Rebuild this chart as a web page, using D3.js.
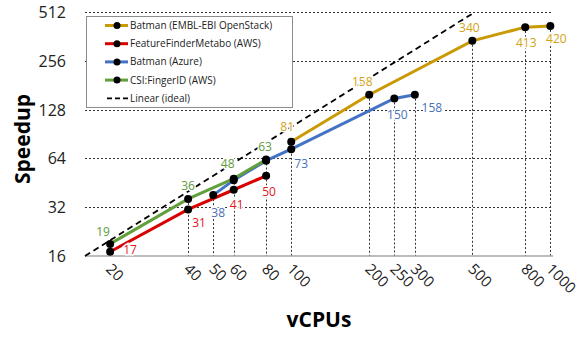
<!DOCTYPE html>
<html>
<head>
<meta charset="utf-8">
<script src="https://cdn.jsdelivr.net/npm/d3@7"></script>
<style>
    body { margin: 0; background: #fff; }
    text { font-family: "Open Sans", "Noto Sans", sans-serif; }
</style>
</head>
<body>
<div id="canvas"></div>
<script>
"use strict"

// ---------------- DATA ----------------
let seriesNames = ["Batman (EMBL-EBI OpenStack)", "FeatureFinderMetabo (AWS)", "Batman (Azure)", "CSI:FingerID (AWS)"]

let batmanOpenStackX = [100, 200, 500, 800, 1000]
let batmanOpenStackY = [81, 158, 340, 413, 420]

let featureFinderX = [20, 40, 60, 80]
let featureFinderY = [17, 31, 41, 50]

let batmanAzureX = [50, 60, 80, 100, 250, 300]
let batmanAzureY = [38, 47, 62, 73, 150, 158]
let batmanAzureLabelled = [true, false, false, true, true, true]

let csiFingerIdX = [20, 40, 60, 80]
let csiFingerIdY = [19, 36, 48, 63]

let linearX = [16, 512]

let xTicks = [20, 40, 50, 60, 80, 100, 200, 250, 300, 500, 800, 1000]
let yTicks = [16, 32, 64, 128, 256, 512]

// ---------------- SETUP ----------------
let svgWidth = 581
let svgHeight = 349

let svg = d3.select("#canvas")
    .append("svg")
    .attr("width", svgWidth)
    .attr("height", svgHeight)

let xScale = d3.scaleLog().base(2).domain([16, 1024]).range([85, 553])
let yScale = d3.scaleLog().base(2).domain([16, 512]).range([256, 12])

let series = [
    { name: seriesNames[0], xs: batmanOpenStackX, ys: batmanOpenStackY, line: "#c99a06", label: "#d4a212",
      offsets: [[-4, -15], [-7, -13], [-3, -13], [1, 15], [6, 13]] },
    { name: seriesNames[1], xs: featureFinderX, ys: featureFinderY, line: "#d80000", label: "#e0161c",
      offsets: [[20, -2], [11, 13], [3, 15], [3, 16]] },
    { name: seriesNames[2], xs: batmanAzureX, ys: batmanAzureY, line: "#4472c4", label: "#4a70b8",
      labelled: batmanAzureLabelled,
      offsets: [[5, 17], null, null, [10, 14], [3, 16], [17, 13]] },
    { name: seriesNames[3], xs: csiFingerIdX, ys: csiFingerIdY, line: "#62a03e", label: "#5e9a3c",
      offsets: [[-7, -12], [0, -13], [-6, -15], [-1, -13]] }
]

let pointsOf = function(s) {
    return s.xs.map(function(x, i) { return { x: x, y: s.ys[i], i: i } })
}

let crisp = function(v) { return Math.round(v) + 0.5 }

// ---------------- GRID ----------------
let grid = svg.append("g")

grid.selectAll("line.h")
    .data(yTicks.slice(1))
    .enter()
    .append("line")
    .attr("class", "h")
    .attr("x1", xScale(16))
    .attr("x2", xScale(1024))
    .attr("y1", function(d) { return crisp(yScale(d)) })
    .attr("y2", function(d) { return crisp(yScale(d)) })
    .attr("stroke", "#333")
    .attr("stroke-width", 1)
    .attr("stroke-dasharray", "2,2")

// drop lines from the highest point at each vCPU count
let maxAt = {}
series.forEach(function(s) {
    s.xs.forEach(function(x, i) {
        maxAt[x] = Math.max(maxAt[x] || 0, s.ys[i])
    })
})

grid.selectAll("line.v")
    .data(xTicks)
    .enter()
    .append("line")
    .attr("class", "v")
    .attr("x1", function(d) { return crisp(xScale(d)) })
    .attr("x2", function(d) { return crisp(xScale(d)) })
    .attr("y1", function(d) { return yScale(maxAt[d]) })
    .attr("y2", yScale(16))
    .attr("stroke", "#333")
    .attr("stroke-width", 1)
    .attr("stroke-dasharray", "2,2")

svg.append("line")
    .attr("x1", xScale(16))
    .attr("x2", xScale(1024))
    .attr("y1", yScale(16))
    .attr("y2", yScale(16))
    .attr("stroke", "#a6a6a6")
    .attr("stroke-width", 1.5)

// ---------------- AXES TEXT ----------------
svg.selectAll("text.ytick")
    .data(yTicks)
    .enter()
    .append("text")
    .attr("x", 66)
    .attr("y", function(d) { return yScale(d) + 6 })
    .attr("text-anchor", "end")
    .attr("font-size", 16)
    .attr("fill", "#222")
    .text(function(d) { return d })

svg.selectAll("text.xtick")
    .data(xTicks)
    .enter()
    .append("text")
    .attr("transform", function(d) { return `translate(${xScale(d) - 5},${270}) rotate(45)` })
    .attr("text-anchor", "start")
    .attr("font-size", 15)
    .attr("fill", "#222")
    .text(function(d) { return d })

svg.append("text")
    .attr("transform", "rotate(-90)")
    .attr("x", -139)
    .attr("y", 30)
    .attr("text-anchor", "middle")
    .attr("font-size", 21)
    .attr("font-weight", "bold")
    .text("Speedup")

svg.append("text")
    .attr("x", 319)
    .attr("y", 327)
    .attr("text-anchor", "middle")
    .attr("font-size", 21)
    .attr("font-weight", "bold")
    .text("vCPUs")

// ---------------- LINES ----------------
let line = d3.line()
    .x(function(d) { return xScale(d.x) })
    .y(function(d) { return yScale(d.y) })

svg.append("path")
    .datum(linearX.map(function(v) { return { x: v, y: v } }))
    .attr("d", line)
    .attr("fill", "none")
    .attr("stroke", "#000")
    .attr("stroke-width", 1.8)
    .attr("stroke-dasharray", "6,4")

series.forEach(function(s) {
    svg.append("path")
        .datum(pointsOf(s))
        .attr("d", line)
        .attr("fill", "none")
        .attr("stroke", s.line)
        .attr("stroke-width", 3)
})

series.forEach(function(s) {
    svg.append("g").selectAll("circle")
        .data(pointsOf(s))
        .enter()
        .append("circle")
        .attr("cx", function(d) { return xScale(d.x) })
        .attr("cy", function(d) { return yScale(d.y) })
        .attr("r", 4)
        .attr("fill", "#000")
})

series.forEach(function(s) {
    let pts = pointsOf(s).filter(function(d) { return !s.labelled || s.labelled[d.i] })
    svg.append("g").selectAll("text")
        .data(pts)
        .enter()
        .append("text")
        .attr("x", function(d) { return xScale(d.x) + s.offsets[d.i][0] })
        .attr("y", function(d) { return yScale(d.y) + s.offsets[d.i][1] + 4.5 })
        .attr("text-anchor", "middle")
        .attr("font-size", 12)
        .attr("fill", s.label)
        .attr("stroke", "#fff")
        .attr("stroke-width", 3)
        .attr("paint-order", "stroke")
        .text(function(d) { return d.y })
})

// ---------------- LEGEND ----------------
let legend = svg.append("g")

legend.append("rect")
    .attr("x", 86.5)
    .attr("y", 16.5)
    .attr("width", 206)
    .attr("height", 91)
    .attr("fill", "#fff")
    .attr("stroke", "#8c8c8c")

let legendItems = series.map(function(s) { return { name: s.name, color: s.line, dash: null } })
legendItems.push({ name: "Linear (ideal)", color: "#000", dash: "5,3" })

let rows = legend.selectAll("g.row")
    .data(legendItems)
    .enter()
    .append("g")
    .attr("transform", function(d, i) { return `translate(0,${25.5 + i * 18.2})` })

rows.append("line")
    .attr("x1", function(d) { return d.dash ? 107 : 105 })
    .attr("x2", 128)
    .attr("stroke", function(d) { return d.color })
    .attr("stroke-width", function(d) { return d.dash ? 1.8 : 3 })
    .attr("stroke-dasharray", function(d) { return d.dash })

rows.filter(function(d) { return !d.dash })
    .append("circle")
    .attr("cx", 117)
    .attr("r", 3.5)
    .attr("fill", "#000")

rows.append("text")
    .attr("x", 130)
    .attr("y", 3.5)
    .attr("font-size", 10)
    .attr("fill", "#222")
    .text(function(d) { return d.name })
</script>
</body>
</html>
